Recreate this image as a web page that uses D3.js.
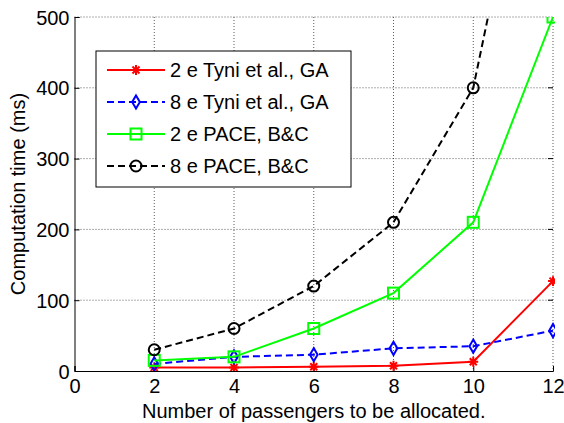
<!DOCTYPE html>
<html>
<head>
<meta charset="utf-8">
<script src="https://cdn.jsdelivr.net/npm/d3@7"></script>
<style>
  body { margin: 0; background: #fff; }
  text { font-family: "Liberation Sans", Arial, sans-serif; fill: #000; }
</style>
</head>
<body>
<div id="chart"></div>
<script>
// Data
const passengers = [2, 4, 6, 8, 10, 12];
const tyni2 = [5, 5, 6, 7.5, 13, 127];
const tyni8 = [10, 20, 23, 32, 35, 57];
const pace2 = [15, 20, 60, 110, 210, 500];
const pace8 = [30, 60, 120, 210, 400, 940];
const xTicks = [0, 2, 4, 6, 8, 10, 12];
const yTicks = [0, 100, 200, 300, 400, 500];
const seriesNames = ["2 e Tyni et al., GA", "8 e Tyni et al., GA", "2 e PACE, B&C", "8 e PACE, B&C"];

const width = 564, height = 423;
const margin = { top: 17, right: 11, bottom: 52, left: 74.5 };
const w = width - margin.left - margin.right;
const h = height - margin.top - margin.bottom;

const series = [
  { name: seriesNames[0], values: tyni2, color: "#ff0000", dash: null, marker: "star" },
  { name: seriesNames[1], values: tyni8, color: "#0000ff", dash: "7,4", marker: "diamond" },
  { name: seriesNames[2], values: pace2, color: "#00ff00", dash: null, marker: "square" },
  { name: seriesNames[3], values: pace8, color: "#000000", dash: "7,4", marker: "circle" }
];

const svg = d3.select("#chart").append("svg")
  .attr("width", width)
  .attr("height", height);

const g = svg.append("g").attr("transform", `translate(${margin.left},${margin.top})`);

const x = d3.scaleLinear().domain([0, 12]).range([0, w]);
const y = d3.scaleLinear().domain([0, 500]).range([h, 0]);

// grid
g.append("g").selectAll("line").data(xTicks.slice(1)).join("line")
  .attr("x1", d => x(d)).attr("x2", d => x(d))
  .attr("y1", 0).attr("y2", h)
  .attr("stroke", "#333").attr("stroke-width", 0.8).attr("stroke-dasharray", "1,2");
g.append("g").selectAll("line").data(yTicks.slice(1)).join("line")
  .attr("x1", 0).attr("x2", w)
  .attr("y1", d => y(d)).attr("y2", d => y(d))
  .attr("stroke", "#333").attr("stroke-width", 0.8).attr("stroke-dasharray", "1,2");

// axes (MATLAB style, ticks inside)
const xAxis = g.append("g").attr("transform", `translate(0,${h})`)
  .call(d3.axisBottom(x).tickValues(xTicks).tickSize(-5).tickPadding(8));
const yAxis = g.append("g")
  .call(d3.axisLeft(y).tickValues(yTicks).tickSize(-5).tickPadding(5));
[xAxis, yAxis].forEach(a => {
  a.select(".domain").attr("stroke", "#000").attr("stroke-width", 1);
  a.selectAll(".tick line").attr("stroke", "#000");
  a.selectAll("text").attr("font-size", 20).attr("font-family", "Liberation Sans, Arial, sans-serif");
});
xAxis.selectAll("text").attr("dy", "0.71em");
yAxis.selectAll("text").attr("dy", "0.35em");

// right side small ticks
g.append("g").selectAll("line").data(yTicks.slice(1, -1)).join("line")
  .attr("x1", w - 5).attr("x2", w)
  .attr("y1", d => y(d)).attr("y2", d => y(d))
  .attr("stroke", "#000");

// clip
svg.append("defs").append("clipPath").attr("id", "clip")
  .append("rect").attr("x", -2).attr("y", 0).attr("width", w + 4).attr("height", h);

const line = d3.line()
  .x((d, i) => x(passengers[i]))
  .y(d => y(d));

function drawMarker(sel, type, color, size) {
  const r = size / 2;
  if (type === "circle") {
    sel.append("circle").attr("r", r).attr("fill", "none").attr("stroke", color).attr("stroke-width", 2);
  } else if (type === "square") {
    sel.append("rect").attr("x", -r).attr("y", -r).attr("width", size).attr("height", size)
      .attr("fill", "none").attr("stroke", color).attr("stroke-width", 2);
  } else if (type === "diamond") {
    sel.append("path").attr("d", `M0,${-r * 1.2}L${r * 0.7},0L0,${r * 1.2}L${-r * 0.7},0Z`)
      .attr("fill", "none").attr("stroke", color).attr("stroke-width", 2);
  } else if (type === "star") {
    const rr = r * 0.9;
    const p = [];
    for (let k = 0; k < 4; k++) {
      const a = k * Math.PI / 4;
      p.push(`M${-rr * Math.cos(a)},${-rr * Math.sin(a)}L${rr * Math.cos(a)},${rr * Math.sin(a)}`);
    }
    sel.append("path").attr("d", p.join("")).attr("stroke", color).attr("stroke-width", 2);
  }
}

const plot = g.append("g").attr("clip-path", "url(#clip)");
series.forEach(s => {
  plot.append("path")
    .datum(s.values)
    .attr("d", line)
    .attr("fill", "none")
    .attr("stroke", s.color)
    .attr("stroke-width", 2)
    .attr("stroke-dasharray", s.dash);
  s.values.forEach((v, i) => {
    if (v > 500) return;
    const m = plot.append("g").attr("transform", `translate(${x(passengers[i])},${y(v)})`);
    drawMarker(m, s.marker, s.color, 11);
  });
});

// legend
const lg = svg.append("g").attr("transform", "translate(96,51)");
lg.append("rect").attr("width", 255).attr("height", 136)
  .attr("fill", "#fff").attr("stroke", "#000").attr("stroke-width", 1);
series.forEach((s, i) => {
  const yy = 19 + i * 32;
  lg.append("line").attr("x1", 11).attr("x2", 69).attr("y1", yy).attr("y2", yy)
    .attr("stroke", s.color).attr("stroke-width", 2).attr("stroke-dasharray", s.dash);
  const m = lg.append("g").attr("transform", `translate(40,${yy})`);
  drawMarker(m, s.marker, s.color, 11);
  lg.append("text").attr("x", 74).attr("y", yy).attr("dy", "0.35em")
    .attr("font-size", 20).text(s.name);
});

// axis titles
svg.append("text")
  .attr("transform", `translate(25,${margin.top + h / 2}) rotate(-90)`)
  .attr("text-anchor", "middle")
  .attr("font-size", 20)
  .text("Computation time (ms)");
svg.append("text")
  .attr("x", margin.left + w / 2)
  .attr("y", 418)
  .attr("text-anchor", "middle")
  .attr("font-size", 20)
  .text("Number of passengers to be allocated.");
</script>
</body>
</html>
